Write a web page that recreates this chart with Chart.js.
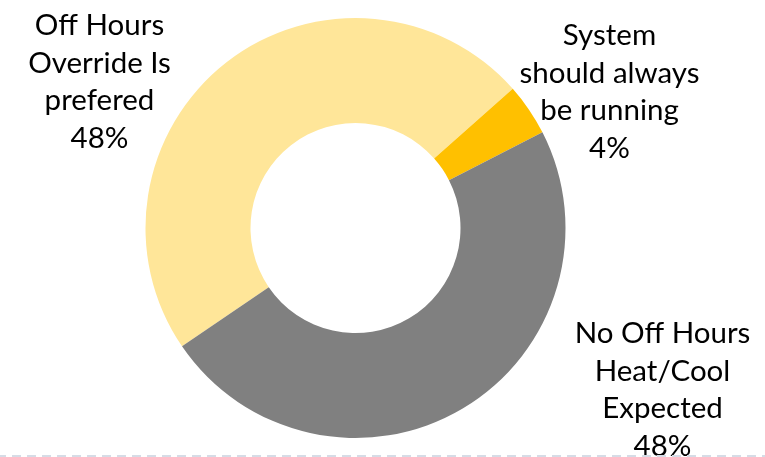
<!DOCTYPE html>
<html>
<head>
<meta charset="utf-8">
<script src="https://cdn.jsdelivr.net/npm/chart.js@4/dist/chart.umd.min.js"></script>
<style>
  html, body { margin: 0; padding: 0; background: #ffffff; }
  #wrap { position: relative; width: 765px; height: 457px; }
</style>
</head>
<body>
<div id="wrap"><canvas id="c"></canvas></div>
<script>
// ---- data ----
const categories = [
  ["Off Hours", "Override Is", "prefered"],
  ["System", "should always", "be running"],
  ["No Off Hours", "Heat/Cool", "Expected"]
];
const values = [48, 4, 48];
const percentLabels = ["48%", "4%", "48%"];
const colors = ["#FFE699", "#FFC000", "#808080"];

// label block centres (top line baseline), relative to the doughnut centre
const labelOffsets = [
  { dx: -256, dy: -193 },
  { dx: 254, dy: -183 },
  { dx: 307, dy: 115 }
];

const labelPlugin = {
  id: 'sliceLabels',
  afterDatasetsDraw(chart) {
    const ctx = chart.ctx;
    const meta = chart.getDatasetMeta(0);
    const arc0 = meta.data[0];
    const cx = arc0.x, cy = arc0.y;
    ctx.save();
    ctx.fillStyle = '#000000';
    ctx.font = '29.5px Lato, "Open Sans", sans-serif';
    ctx.textAlign = 'center';
    ctx.textBaseline = 'alphabetic';
    const lh = 37.5;
    meta.data.forEach((arc, i) => {
      const lines = categories[i].concat([percentLabels[i]]);
      const x = cx + labelOffsets[i].dx;
      const y0 = cy + labelOffsets[i].dy;
      lines.forEach((t, k) => ctx.fillText(t, x, y0 + k * lh));
    });
    ctx.restore();
    // dashed bottom rule
    ctx.save();
    ctx.strokeStyle = '#D6DCE6';
    ctx.lineWidth = 2;
    ctx.setLineDash([9, 6]);
    ctx.lineDashOffset = 3;
    ctx.beginPath();
    ctx.moveTo(0, 456);
    ctx.lineTo(765, 456);
    ctx.stroke();
    ctx.restore();
  }
};

new Chart(document.getElementById('c'), {
  type: 'doughnut',
  data: {
    labels: categories.map(c => c.join(' ')),
    datasets: [{
      data: values,
      backgroundColor: colors,
      borderWidth: 0,
      hoverOffset: 0
    }]
  },
  options: {
    responsive: true,
    maintainAspectRatio: false,
    animation: false,
    rotation: 235.7,
    cutout: '50%',
    layout: { padding: { top: 18, bottom: 19, left: 0, right: 54 } },
    plugins: {
      legend: { display: false },
      tooltip: { enabled: false }
    }
  },
  plugins: [labelPlugin]
});
</script>
</body>
</html>
